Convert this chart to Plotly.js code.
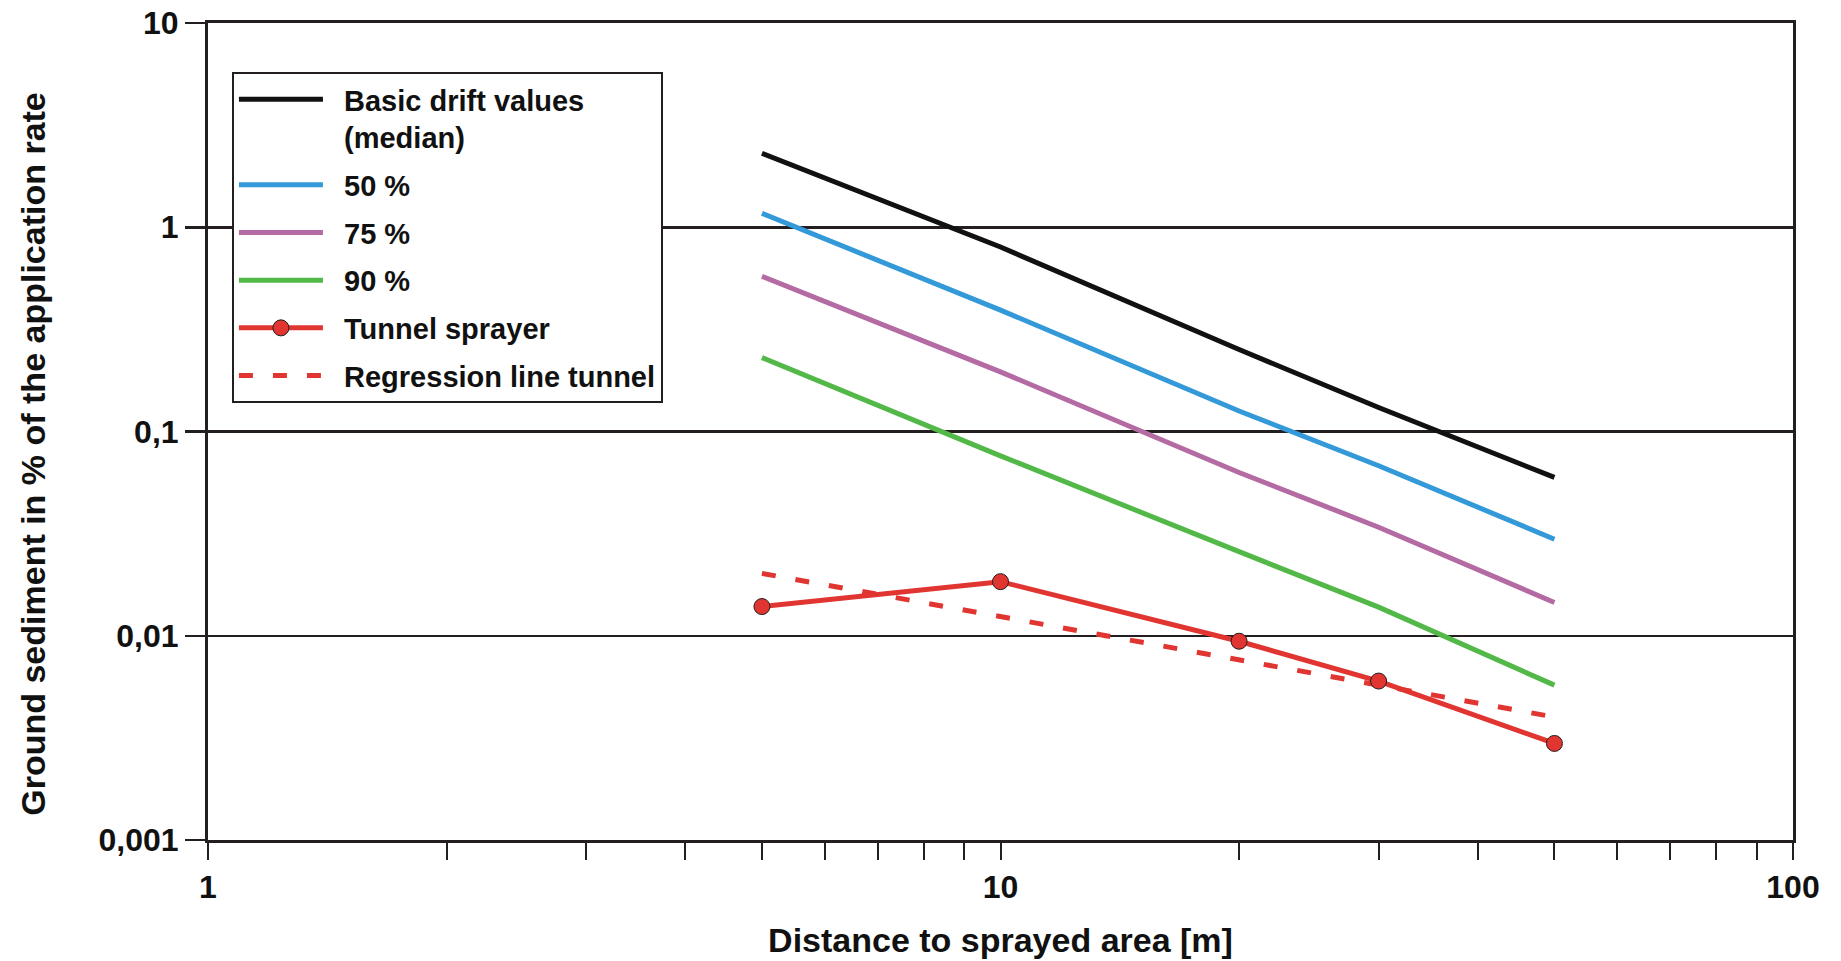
<!DOCTYPE html>
<html>
<head>
<meta charset="utf-8">
<script src="https://cdn.plot.ly/plotly-3.0.1.min.js"></script>
<style>html,body{margin:0;padding:0;background:#fff;}#chart{width:1841px;height:961px;}</style>
</head>
<body>
<div id="chart"></div>
<script>
// Distances [m]
var distances = [5, 10, 20, 30, 50];
// Ground sediment in % of application rate
var basicDrift = [2.30, 0.80, 0.252, 0.131, 0.0596];
var reduction50 = [1.17, 0.393, 0.126, 0.068, 0.0297];
var reduction75 = [0.575, 0.196, 0.063, 0.034, 0.01455];
var reduction90 = [0.230, 0.076, 0.0258, 0.0138, 0.00573];
var tunnelSprayer = [0.0139, 0.0184, 0.0094, 0.0060, 0.00297];
var regressionX = [5, 50];
var regressionY = [0.0202, 0.0040];

var yTickVals = [0.001, 0.01, 0.1, 1, 10];
var yTickText = ['0,001', '0,01', '0,1', '1', '10'];
var xTickVals = [1,2,3,4,5,6,7,8,9,10,20,30,40,50,60,70,80,90,100];
var xTickText = ['1','','','','','','','','','10','','','','','','','','','100'];

var FONT = 'Liberation Sans, Arial, Helvetica, sans-serif';
var AX = '#231f20';
var SP = '\u00a0\u00a0';

var traces = [
  {x: distances, y: basicDrift, name: SP + 'Basic drift values<br>' + SP + '(median)', mode: 'lines',
   line: {color: '#111111', width: 5}, legendgroup: 'a', legendrank: 1},
  {x: distances, y: reduction50, name: SP + '50 %', mode: 'lines',
   line: {color: '#3499d8', width: 5}, legendgroup: 'b', legendrank: 2},
  {x: distances, y: reduction75, name: SP + '75 %', mode: 'lines',
   line: {color: '#b46aa3', width: 5}, legendgroup: 'c', legendrank: 3},
  {x: distances, y: reduction90, name: SP + '90 %', mode: 'lines',
   line: {color: '#52b848', width: 5}, legendgroup: 'd', legendrank: 4},
  {x: regressionX, y: regressionY, name: SP + 'Regression line tunnel', mode: 'lines',
   line: {color: '#e03530', width: 5, dash: '14px,20px'}, legendgroup: 'f', legendrank: 6},
  {x: distances, y: tunnelSprayer, name: SP + 'Tunnel sprayer', mode: 'lines+markers',
   line: {color: '#e03530', width: 5},
   marker: {symbol: 'circle', size: 16, color: '#e03530', line: {color: '#231f20', width: 1}},
   legendgroup: 'e', legendrank: 5}
];

var layout = {
  width: 1841, height: 961,
  margin: {l: 208, r: 48, t: 23, b: 121},
  paper_bgcolor: '#ffffff', plot_bgcolor: '#ffffff',
  showlegend: true,
  hovermode: false,
  font: {family: FONT, size: 31, color: '#111111', weight: 'bold'},
  legend: {
    x: 0.0151, y: 0.94, xanchor: 'left', yanchor: 'top',
    bgcolor: '#ffffff', bordercolor: AX, borderwidth: 2,
    font: {family: FONT, size: 29, color: '#111111', weight: 'bold'},
    itemwidth: 84, valign: 'top', traceorder: 'grouped', tracegroupgap: 7
  },
  annotations: [{
    text: 'Ground sediment in % of the application rate',
    xref: 'paper', yref: 'paper', x: -0.1104, y: 0.4728,
    xanchor: 'center', yanchor: 'middle', textangle: -90, showarrow: false,
    font: {family: FONT, size: 34, color: '#111111', weight: 'bold'}
  }],
  xaxis: {
    type: 'log', range: [0, 2],
    tickmode: 'array', tickvals: xTickVals, ticktext: xTickText,
    ticks: 'outside', ticklen: 17, tickwidth: 2, tickcolor: AX,
    showline: true, linecolor: AX, linewidth: 3, mirror: true,
    showgrid: false, zeroline: false,
    tickfont: {family: FONT, size: 32, color: '#111111', weight: 'bold'},
    title: {text: 'Distance to sprayed area [m]', standoff: 24,
            font: {family: FONT, size: 34, color: '#111111', weight: 'bold'}}
  },
  yaxis: {
    type: 'log', range: [-3, 1],
    tickmode: 'array', tickvals: yTickVals, ticktext: yTickText,
    ticks: 'outside', ticklen: 20, tickwidth: 2.5, tickcolor: AX,
    showline: true, linecolor: AX, linewidth: 3, mirror: true,
    showgrid: true, gridcolor: AX, gridwidth: 2.5, zeroline: false,
    tickfont: {family: FONT, size: 32, color: '#111111', weight: 'bold'},
    automargin: false
  }
};

Plotly.newPlot('chart', traces, layout, {displayModeBar: false, staticPlot: true});
</script>
</body>
</html>
